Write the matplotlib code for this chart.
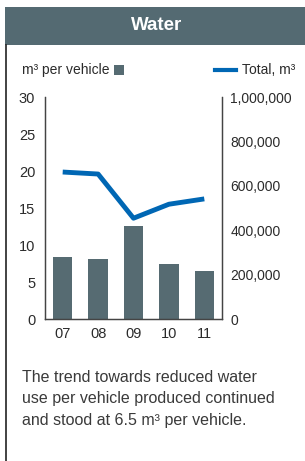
import numpy as np
import matplotlib
matplotlib.use('Agg')
import matplotlib.pyplot as plt
from matplotlib.patches import Rectangle
from matplotlib.lines import Line2D

plt.rcParams['font.family'] = ['Liberation Sans', 'DejaVu Sans']

years = ['07', '08', '09', '10', '11']
per_vehicle = [8.4, 8.1, 12.6, 7.4, 6.5]
total_m3 = [662000, 653000, 454000, 517000, 541000]

bar_color = '#566b72'
line_color = '#0067b4'
text_color = '#2b2b2b'

fig = plt.figure(figsize=(3.05, 4.61), dpi=100)

# title banner and left frame line
fig.patches.append(Rectangle((5/305, 1-45/461), 300/305, 38/461, transform=fig.transFigure,
                             facecolor='#546a72', edgecolor='none'))
fig.lines.append(Line2D([6/305, 6/305], [0, 1-45/461], transform=fig.transFigure,
                        color='#222222', lw=1.2))
fig.text(157/305, 1-26/461, 'Water', ha='center', va='center', color='white',
         fontsize=13.5, fontweight='bold')

ax = fig.add_axes([45/305, 1-319/461, 177/305, 222/461])
x = np.arange(len(years))
ax.bar(x, per_vehicle, width=0.55, color=bar_color)
ax.set_xlim(-0.5, 4.5)
ax.set_ylim(0, 30)
ax.set_yticks([0, 5, 10, 15, 20, 25, 30])
ax.set_xticks(x)
ax.set_xticklabels(years)
ax.tick_params(length=0, labelsize=10.5, colors=text_color, pad=7)
ax.tick_params(axis='x', pad=6)

ax2 = ax.twinx()
ax2.plot(x, total_m3, color=line_color, lw=3.5, solid_capstyle='butt')
ax2.set_ylim(0, 1000000)
ax2.set_yticks([0, 200000, 400000, 600000, 800000, 1000000])
ax2.set_yticklabels(['0', '200,000', '400,000', '600,000', '800,000', '1,000,000'])
ax2.tick_params(length=0, labelsize=10, colors=text_color, pad=6)

for a in (ax, ax2):
    a.spines['top'].set_visible(False)
    for s in ('left', 'right', 'bottom'):
        a.spines[s].set_color('#444444')
        a.spines[s].set_linewidth(0.9)

# legend
fig.text(22/305, 1-70/461, 'm³ per vehicle', ha='left', va='center', fontsize=10, color=text_color)
fig.patches.append(Rectangle((114/305, 1-75/461), 10/305, 10/461, transform=fig.transFigure,
                             facecolor=bar_color, edgecolor='none'))
fig.lines.append(Line2D([215/305, 236/305], [1-70/461, 1-70/461], transform=fig.transFigure,
                        color=line_color, lw=3))
fig.text(242/305, 1-70/461, 'Total, m³', ha='left', va='center', fontsize=10, color=text_color)

# caption
caption = ['The trend towards reduced water',
           'use per vehicle produced continued',
           'and stood at 6.5 m³ per vehicle.']
for i, line in enumerate(caption):
    fig.text(22/305, 1-(377 + 21.5*i)/461, line, ha='left', va='center', fontsize=11.5,
             color='#3a3a3a')

fig.savefig('out.png', dpi=100)
